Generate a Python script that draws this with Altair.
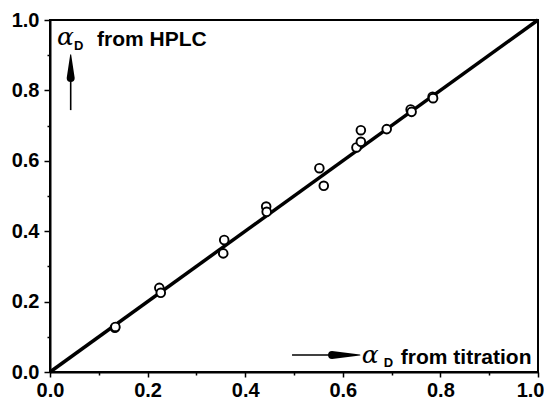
import altair as alt
import pandas as pd

# data
titration = [0.133, 0.134, 0.224, 0.227, 0.357, 0.355, 0.443, 0.444, 0.552, 0.561,
             0.628, 0.637, 0.637, 0.690, 0.739, 0.741, 0.784, 0.785]
hplc = [0.126, 0.128, 0.239, 0.225, 0.375, 0.337, 0.470, 0.455, 0.579, 0.529,
        0.638, 0.654, 0.687, 0.690, 0.746, 0.739, 0.782, 0.778]
line_x = [0.0, 1.0]
line_y = [0.0, 1.0]
tick_values = [0.0, 0.1, 0.2, 0.3, 0.4, 0.5, 0.6, 0.7, 0.8, 0.9, 1.0]

pts = pd.DataFrame({"x": titration, "y": hplc})
ln = pd.DataFrame({"x": line_x, "y": line_y})

xs = alt.Scale(domain=[0, 1], nice=False, zero=False)
ys = alt.Scale(domain=[0, 1], nice=False, zero=False)

major = "round(datum.value*10) % 2 === 0"
label_expr = f"{major} ? format(datum.value, '.1f') : ''"

common = dict(values=tick_values, labelExpr=label_expr, title=None, grid=False,
              labelFont="Liberation Sans", labelFontWeight="bold", labelFontSize=20,
              labelColor="black", domainColor="black", domainWidth=2,
              tickColor="black", tickWidth=1.5, labelFlush=False, labelOverlap=False)
last = "datum.value >= 0.99"
xaxis = alt.Axis(tickSize={"condition": {"test": major, "value": 5}, "value": 3},
                 labelAlign={"condition": {"test": last, "value": "right"}, "value": "center"},
                 labelOffset={"condition": {"test": last, "value": 6}, "value": 0},
                 labelPadding=3, **common)
yaxis = alt.Axis(tickSize={"condition": {"test": major, "value": 6}, "value": 3},
                 labelPadding=5, **common)

X = alt.X("x:Q", scale=xs, axis=xaxis)
Y = alt.Y("y:Q", scale=ys, axis=yaxis)

line = alt.Chart(ln).mark_line(color="black", strokeWidth=3.5).encode(x=X, y=Y)

points = alt.Chart(pts).mark_point(
    shape="circle", size=75, filled=False, fill="white", fillOpacity=1,
    stroke="black", strokeWidth=1.9, opacity=1
).encode(x=X, y=Y)

def txt(df, **kw):
    return alt.Chart(df).mark_text(align="left", baseline="alphabetic", color="black", **kw).encode(
        x=X, y=Y, text="s:N")

alpha_df = pd.DataFrame({"x": [0.0143, 0.639], "y": [0.929, 0.0256], "s": ["α", "α"]})
sub_df = pd.DataFrame({"x": [0.049, 0.684], "y": [0.915, 0.0142], "s": ["D", "D"]})
from_df = pd.DataFrame({"x": [0.0963, 0.719], "y": [0.926, 0.0227],
                        "s": ["from HPLC", "from titration"]})

alpha_t = txt(alpha_df, font="DejaVu Serif", fontStyle="italic", fontSize=25)
sub_t = txt(sub_df, font="Liberation Sans", fontWeight="bold", fontSize=13)
from_t = txt(from_df, font="Liberation Sans", fontWeight="bold", fontSize=21)

# arrows: thin shafts and tapered heads (trail from base width to zero at the tip)
shaft_v = pd.DataFrame({"x": [0.0424], "y": [0.744], "y2": [0.835]})
shaft_h = pd.DataFrame({"x": [0.496], "x2": [0.578], "y": [0.0483]})
head_v = pd.DataFrame({"x": [0.0424, 0.0424], "y": [0.835, 0.901], "w": [8, 0], "o": [0, 1]})
head_h = pd.DataFrame({"x": [0.578, 0.635], "y": [0.0483, 0.0483], "w": [8, 0], "o": [0, 1]})

sv = alt.Chart(shaft_v).mark_rule(color="black", strokeWidth=1.6).encode(x=X, y=Y, y2="y2:Q")
sh = alt.Chart(shaft_h).mark_rule(color="black", strokeWidth=1.6).encode(x=X, x2="x2:Q", y=Y)
hv = alt.Chart(head_v).mark_trail(color="black").encode(
    x=X, y=Y, size=alt.Size("w:Q", scale=None, legend=None), order="o:Q")
hh = alt.Chart(head_h).mark_trail(color="black").encode(
    x=X, y=Y, size=alt.Size("w:Q", scale=None, legend=None), order="o:Q")

chart = alt.layer(line, points, alpha_t, sub_t, from_t, sv, sh, hv, hh).properties(
    width=488, height=352,
    autosize=alt.AutoSizeParams(type="none"),
    padding={"left": 42, "top": 12, "right": 6, "bottom": 29},
    background="white",
).configure_view(stroke="black", strokeWidth=2)

chart.save("out.html", embed_options={"renderer": "svg", "actions": False})
